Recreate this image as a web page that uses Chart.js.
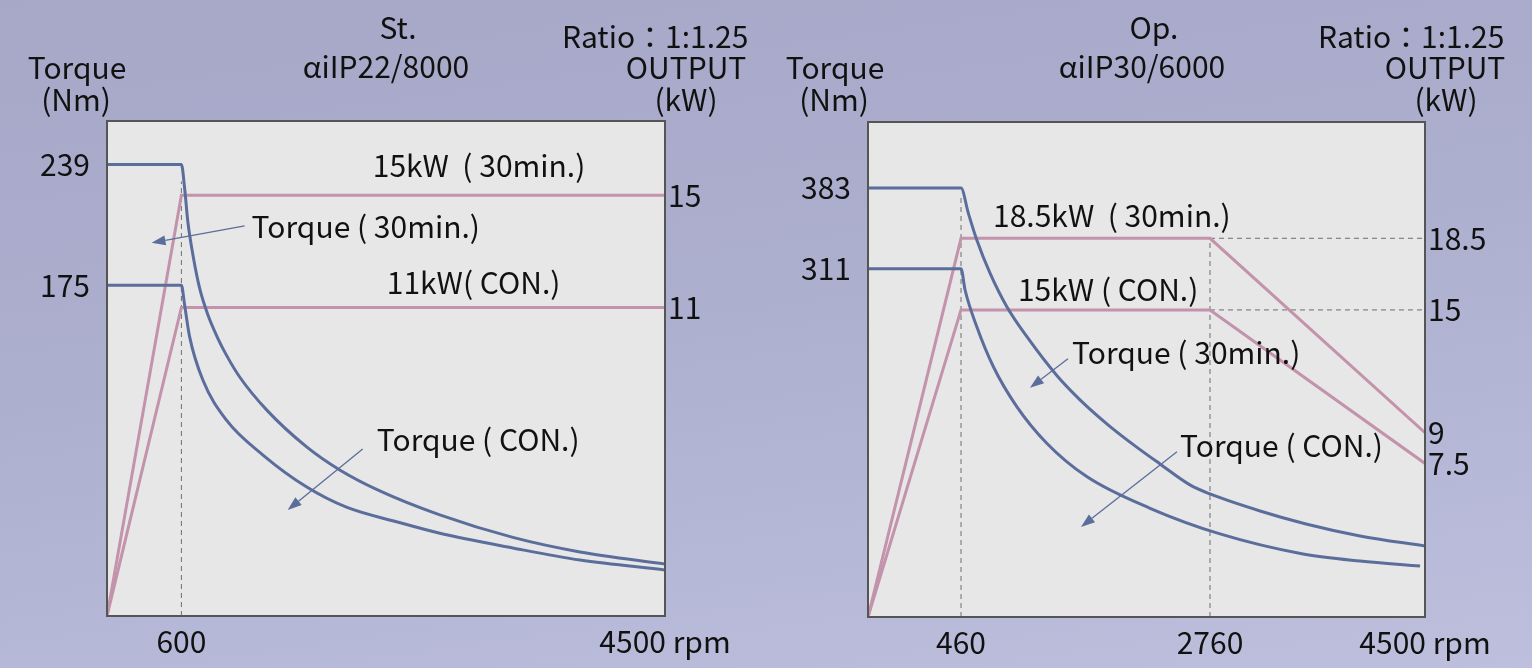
<!DOCTYPE html>
<html>
<head>
<meta charset="utf-8">
<title>St. / Op. output curves</title>
<script src="https://cdn.jsdelivr.net/npm/chart.js@4.4.1/dist/chart.umd.min.js"></script>
<style>
  html, body { margin: 0; padding: 0; }
  body {
    width: 1532px; height: 668px; overflow: hidden;
    background: linear-gradient(172deg, #a7a7c8 0%, #adafcf 45%, #bdbfdd 100%);
  }
  .wrap { display: flex; }
  canvas { display: block; }
</style>
</head>
<body>
<div class="wrap">
  <canvas id="st-chart" width="766" height="668"></canvas>
  <canvas id="op-chart" width="766" height="668"></canvas>
</div>
<script>
// ---- St. spindle (alpha iIP22/8000) ----
const stRpmTicks = [600, 4500];
const stTorqueTicks = [175, 239];
const stPowerTicks = [11, 15];

const stTorque30Rpm = [0, 600, 626, 652, 693, 747, 814, 894, 962, 1070, 1287, 1610, 1877, 2200, 2684, 3273, 3814, 4500];
const stTorque30 = [239, 239, 226.4, 208.7, 191.1, 173.5, 159.3, 147.0, 138.2, 126.5, 109.1, 89.5, 77.3, 66.2, 53.5, 41.6, 33.9, 27.5];

const stTorqueConRpm = [0, 600, 626, 666, 773, 962, 1258, 1608, 1931, 2334, 2684, 3273, 3814, 4500];
const stTorqueCon = [175, 175, 164.6, 147.9, 124.9, 103.8, 85.2, 68.4, 57.6, 49.9, 43.8, 36.0, 29.6, 24.4];

const stPowerRpm = [0, 600, 4500];
const stPower30 = [0, 15, 15];
const stPowerCon = [0, 11, 11];

const stGuideRpm = [600, 600];
const stGuideTorque = [0, 230];

// ---- Op. spindle (alpha iIP30/6000) ----
const opRpmTicks = [460, 2760, 4500];
const opTorqueTicks = [311, 383];
const opPowerTicks = [7.5, 9, 15, 18.5];

const opTorque30Rpm = [0, 460, 527, 605, 728, 882, 1067, 1347, 1559, 1818, 2067, 2298, 2575, 2760, 3165, 3537, 3974, 4500];
const opTorque30 = [383, 383, 360.8, 336.9, 307.1, 277.3, 250.5, 215.4, 193.9, 171.6, 152.8, 136.7, 118.0, 109.9, 94.7, 83.1, 72.4, 63.4];

const opTorqueConRpm = [0, 460, 497, 605, 758, 975, 1252, 1621, 2206, 2841, 3513, 3974, 4460];
const opTorqueCon = [311, 311, 292.2, 259.4, 223.7, 187.9, 155.2, 125.4, 97.1, 74.2, 56.3, 50.0, 45.6];

const opPowerRpm = [0, 460, 2760, 4500];
const opPower30 = [0, 18.5, 18.5, 9];
const opPowerCon = [0, 15, 15, 7.5];

const opGuideLowRpm = [460, 460];
const opGuideLowTorque = [0, 377];
const opGuideHighRpm = [2760, 2760];
const opGuideHighPower = [0, 18.5];
const opGuideLevelRpm = [2760, 4500];

const TORQUE_BLUE = '#5b6d9b';
const POWER_PINK = '#c293ab';
const GUIDE_GREY = '#6e6e6e';
const FONT = '"Noto Sans CJK JP", "Noto Sans", sans-serif';

Chart.defaults.font.family = FONT;
Chart.defaults.font.size = 30;
Chart.defaults.color = '#111';

// x axis whose pixel spacing is piecewise linear between given breakpoints
class PiecewiseScale extends Chart.LinearScale {
  static id = 'piecewise';
  static defaults = {};

  _stops() {
    return this.options.stops || [[this.min, 0], [this.max, 1]];
  }
  getPixelForValue(value) {
    const stops = this._stops();
    let i = 1;
    while (i < stops.length - 1 && value > stops[i][0]) i++;
    const [v0, f0] = stops[i - 1];
    const [v1, f1] = stops[i];
    const dec = f0 + (value - v0) / (v1 - v0) * (f1 - f0);
    return this.getPixelForDecimal(dec);
  }
  getValueForPixel(pixel) {
    const dec = this.getDecimalForPixel(pixel);
    const stops = this._stops();
    let i = 1;
    while (i < stops.length - 1 && dec > stops[i][1]) i++;
    const [v0, f0] = stops[i - 1];
    const [v1, f1] = stops[i];
    return v0 + (dec - f0) / (f1 - f0) * (v1 - v0);
  }
}
Chart.register(PiecewiseScale);

const zip = (xs, ys) => xs.map((x, i) => ({ x, y: ys[i] }));

// plot box, notes, arrows and header texts
const framePlugin = {
  id: 'frame',
  beforeDraw(chart) {
    const { ctx, chartArea: a } = chart;
    ctx.save();
    ctx.fillStyle = '#e7e7e7';
    ctx.fillRect(a.left, a.top, a.width, a.height);
    ctx.restore();
  },
  afterDraw(chart, args, opts) {
    const { ctx, chartArea: a, scales } = chart;
    ctx.save();
    ctx.strokeStyle = '#555';
    ctx.lineWidth = 2;
    ctx.strokeRect(a.left, a.top, a.width, a.height);

    ctx.font = '30px ' + FONT;
    ctx.fillStyle = '#111';
    ctx.textBaseline = 'middle';
    ctx.textAlign = 'left';
    (opts.notes || []).forEach(n => {
      ctx.fillText(n.text, scales.x.getPixelForValue(n.x), scales.yT.getPixelForValue(n.y));
    });

    ctx.strokeStyle = TORQUE_BLUE;
    ctx.fillStyle = TORQUE_BLUE;
    ctx.lineWidth = 1.3;
    (opts.arrows || []).forEach(ar => {
      const x1 = scales.x.getPixelForValue(ar.from[0]);
      const y1 = scales.yT.getPixelForValue(ar.from[1]);
      const x2 = scales.x.getPixelForValue(ar.to[0]);
      const y2 = scales.yT.getPixelForValue(ar.to[1]);
      const ang = Math.atan2(y2 - y1, x2 - x1);
      const len = 14, half = 5;
      const bx = x2 - len * Math.cos(ang), by = y2 - len * Math.sin(ang);
      ctx.beginPath();
      ctx.moveTo(x1, y1);
      ctx.lineTo(bx, by);
      ctx.stroke();
      ctx.beginPath();
      ctx.moveTo(x2, y2);
      ctx.lineTo(bx + half * Math.sin(ang), by - half * Math.cos(ang));
      ctx.lineTo(bx - half * Math.sin(ang), by + half * Math.cos(ang));
      ctx.closePath();
      ctx.fill();
    });

    ctx.fillStyle = '#111';
    (opts.header || []).forEach(h => {
      ctx.textAlign = h.align || 'center';
      ctx.fillText(h.text, h.x, h.y);
    });
    ctx.restore();
  }
};

function lineSet(data, color, axis, curved) {
  return {
    data, yAxisID: axis,
    borderColor: color, borderWidth: 3,
    pointRadius: 0, fill: false,
    tension: curved ? 0.4 : 0,
    cubicInterpolationMode: curved ? 'monotone' : 'default'
  };
}

function guideSet(data, axis) {
  return {
    data, yAxisID: axis,
    borderColor: GUIDE_GREY, borderWidth: 1, borderDash: [5, 4],
    pointRadius: 0, fill: false, tension: 0
  };
}

function makeChart(id, cfg) {
  const hidden = { display: false, drawTicks: false };
  return new Chart(document.getElementById(id), {
    type: 'line',
    data: { datasets: cfg.datasets },
    plugins: [framePlugin],
    options: {
      responsive: false,
      animation: false,
      layout: { padding: { top: cfg.top, left: 0, right: 0, bottom: 0 } },
      plugins: {
        legend: { display: false },
        tooltip: { enabled: false },
        frame: { notes: cfg.notes, arrows: cfg.arrows, header: cfg.header }
      },
      scales: {
        x: Object.assign({
          type: 'linear', min: 0, max: 4500,
          grid: hidden, border: { display: false },
          afterBuildTicks: s => { s.ticks = cfg.xTicks.map(v => ({ value: v })); },
          afterFit: s => { s.height = cfg.xHeight; },
          ticks: {
            autoSkip: false, maxRotation: 0, padding: 8,
            callback: v => (v === 4500 ? v + ' rpm' : String(v))
          }
        }, cfg.xExtra || {}),
        yT: {
          position: 'left', min: 0, max: cfg.torqueMax,
          grid: hidden, border: { display: false },
          afterBuildTicks: s => { s.ticks = cfg.torqueTicks.map(v => ({ value: v })); },
          afterFit: s => { s.width = cfg.leftWidth; },
          ticks: { autoSkip: false, padding: 17, callback: v => String(v) }
        },
        yP: {
          position: 'right', min: 0, max: cfg.powerMax,
          grid: hidden, border: { display: false },
          afterBuildTicks: s => { s.ticks = cfg.powerTicks.map(v => ({ value: v })); },
          afterFit: s => { s.width = cfg.rightWidth; },
          ticks: { autoSkip: false, padding: 3, callback: v => String(v) }
        }
      }
    }
  });
}

makeChart('st-chart', {
  top: 121, xHeight: 52, leftWidth: 107, rightWidth: 101,
  torqueMax: 262, powerMax: 17.65,
  xTicks: stRpmTicks, torqueTicks: stTorqueTicks, powerTicks: stPowerTicks,
  datasets: [
    lineSet(zip(stTorque30Rpm, stTorque30), TORQUE_BLUE, 'yT', true),
    lineSet(zip(stTorqueConRpm, stTorqueCon), TORQUE_BLUE, 'yT', true),
    lineSet(zip(stPowerRpm, stPower30), POWER_PINK, 'yP', false),
    lineSet(zip(stPowerRpm, stPowerCon), POWER_PINK, 'yP', false),
    guideSet(zip(stGuideRpm, stGuideTorque), 'yT')
  ],
  notes: [
    { text: '15kW  ( 30min.)', x: 2143, y: 238.2 },
    { text: 'Torque ( 30min.)', x: 1166, y: 206 },
    { text: '11kW( CON.)', x: 2256, y: 176.3 },
    { text: 'Torque ( CON.)', x: 2175, y: 93.2 }
  ],
  arrows: [
    { from: [1110, 206.5], to: [359, 197.5] },
    { from: [2062, 88.4], to: [1457, 56.1] }
  ],
  header: [
    { text: 'St.', x: 398, y: 28 },
    { text: 'αiIP22/8000', x: 386, y: 67 },
    { text: 'Ratio：1:1.25', x: 562, y: 37, align: 'left' },
    { text: 'Torque', x: 77, y: 68 },
    { text: '(Nm)', x: 76, y: 100 },
    { text: 'OUTPUT', x: 686, y: 68 },
    { text: '(kW)', x: 686, y: 100 }
  ]
});

makeChart('op-chart', {
  top: 122, xHeight: 51, leftWidth: 102, rightWidth: 107,
  torqueMax: 442, powerMax: 24.18,
  xTicks: opRpmTicks, torqueTicks: opTorqueTicks, powerTicks: opPowerTicks,
  xExtra: { type: 'piecewise', stops: [[0, 0], [460, 0.167], [2760, 0.614], [4500, 1]] },
  datasets: [
    lineSet(zip(opTorque30Rpm, opTorque30), TORQUE_BLUE, 'yT', true),
    lineSet(zip(opTorqueConRpm, opTorqueCon), TORQUE_BLUE, 'yT', true),
    lineSet(zip(opPowerRpm, opPower30), POWER_PINK, 'yP', false),
    lineSet(zip(opPowerRpm, opPowerCon), POWER_PINK, 'yP', false),
    guideSet(zip(opGuideLowRpm, opGuideLowTorque), 'yT'),
    guideSet(zip(opGuideHighRpm, opGuideHighPower), 'yP'),
    guideSet(zip(opGuideLevelRpm, [opPower30[2], opPower30[2]]), 'yP'),
    guideSet(zip(opGuideLevelRpm, [opPowerCon[2], opPowerCon[2]]), 'yP')
  ],
  notes: [
    { text: '18.5kW  ( 30min.)', x: 756, y: 358.4 },
    { text: '15kW ( CON.)', x: 986, y: 292.2 },
    { text: 'Torque ( 30min.)', x: 1485, y: 235.9 },
    { text: 'Torque ( CON.)', x: 2483, y: 152.8 }
  ],
  arrows: [
    { from: [1448, 230.6], to: [1097, 204.6] },
    { from: [2455, 147.5], to: [1568, 80.4] }
  ],
  header: [
    { text: 'Op.', x: 388, y: 28 },
    { text: 'αiIP30/6000', x: 376, y: 67 },
    { text: 'Ratio：1:1.25', x: 552, y: 37, align: 'left' },
    { text: 'Torque', x: 69, y: 68 },
    { text: '(Nm)', x: 68, y: 100 },
    { text: 'OUTPUT', x: 679, y: 68 },
    { text: '(kW)', x: 680, y: 100 }
  ]
});
</script>
</body>
</html>
